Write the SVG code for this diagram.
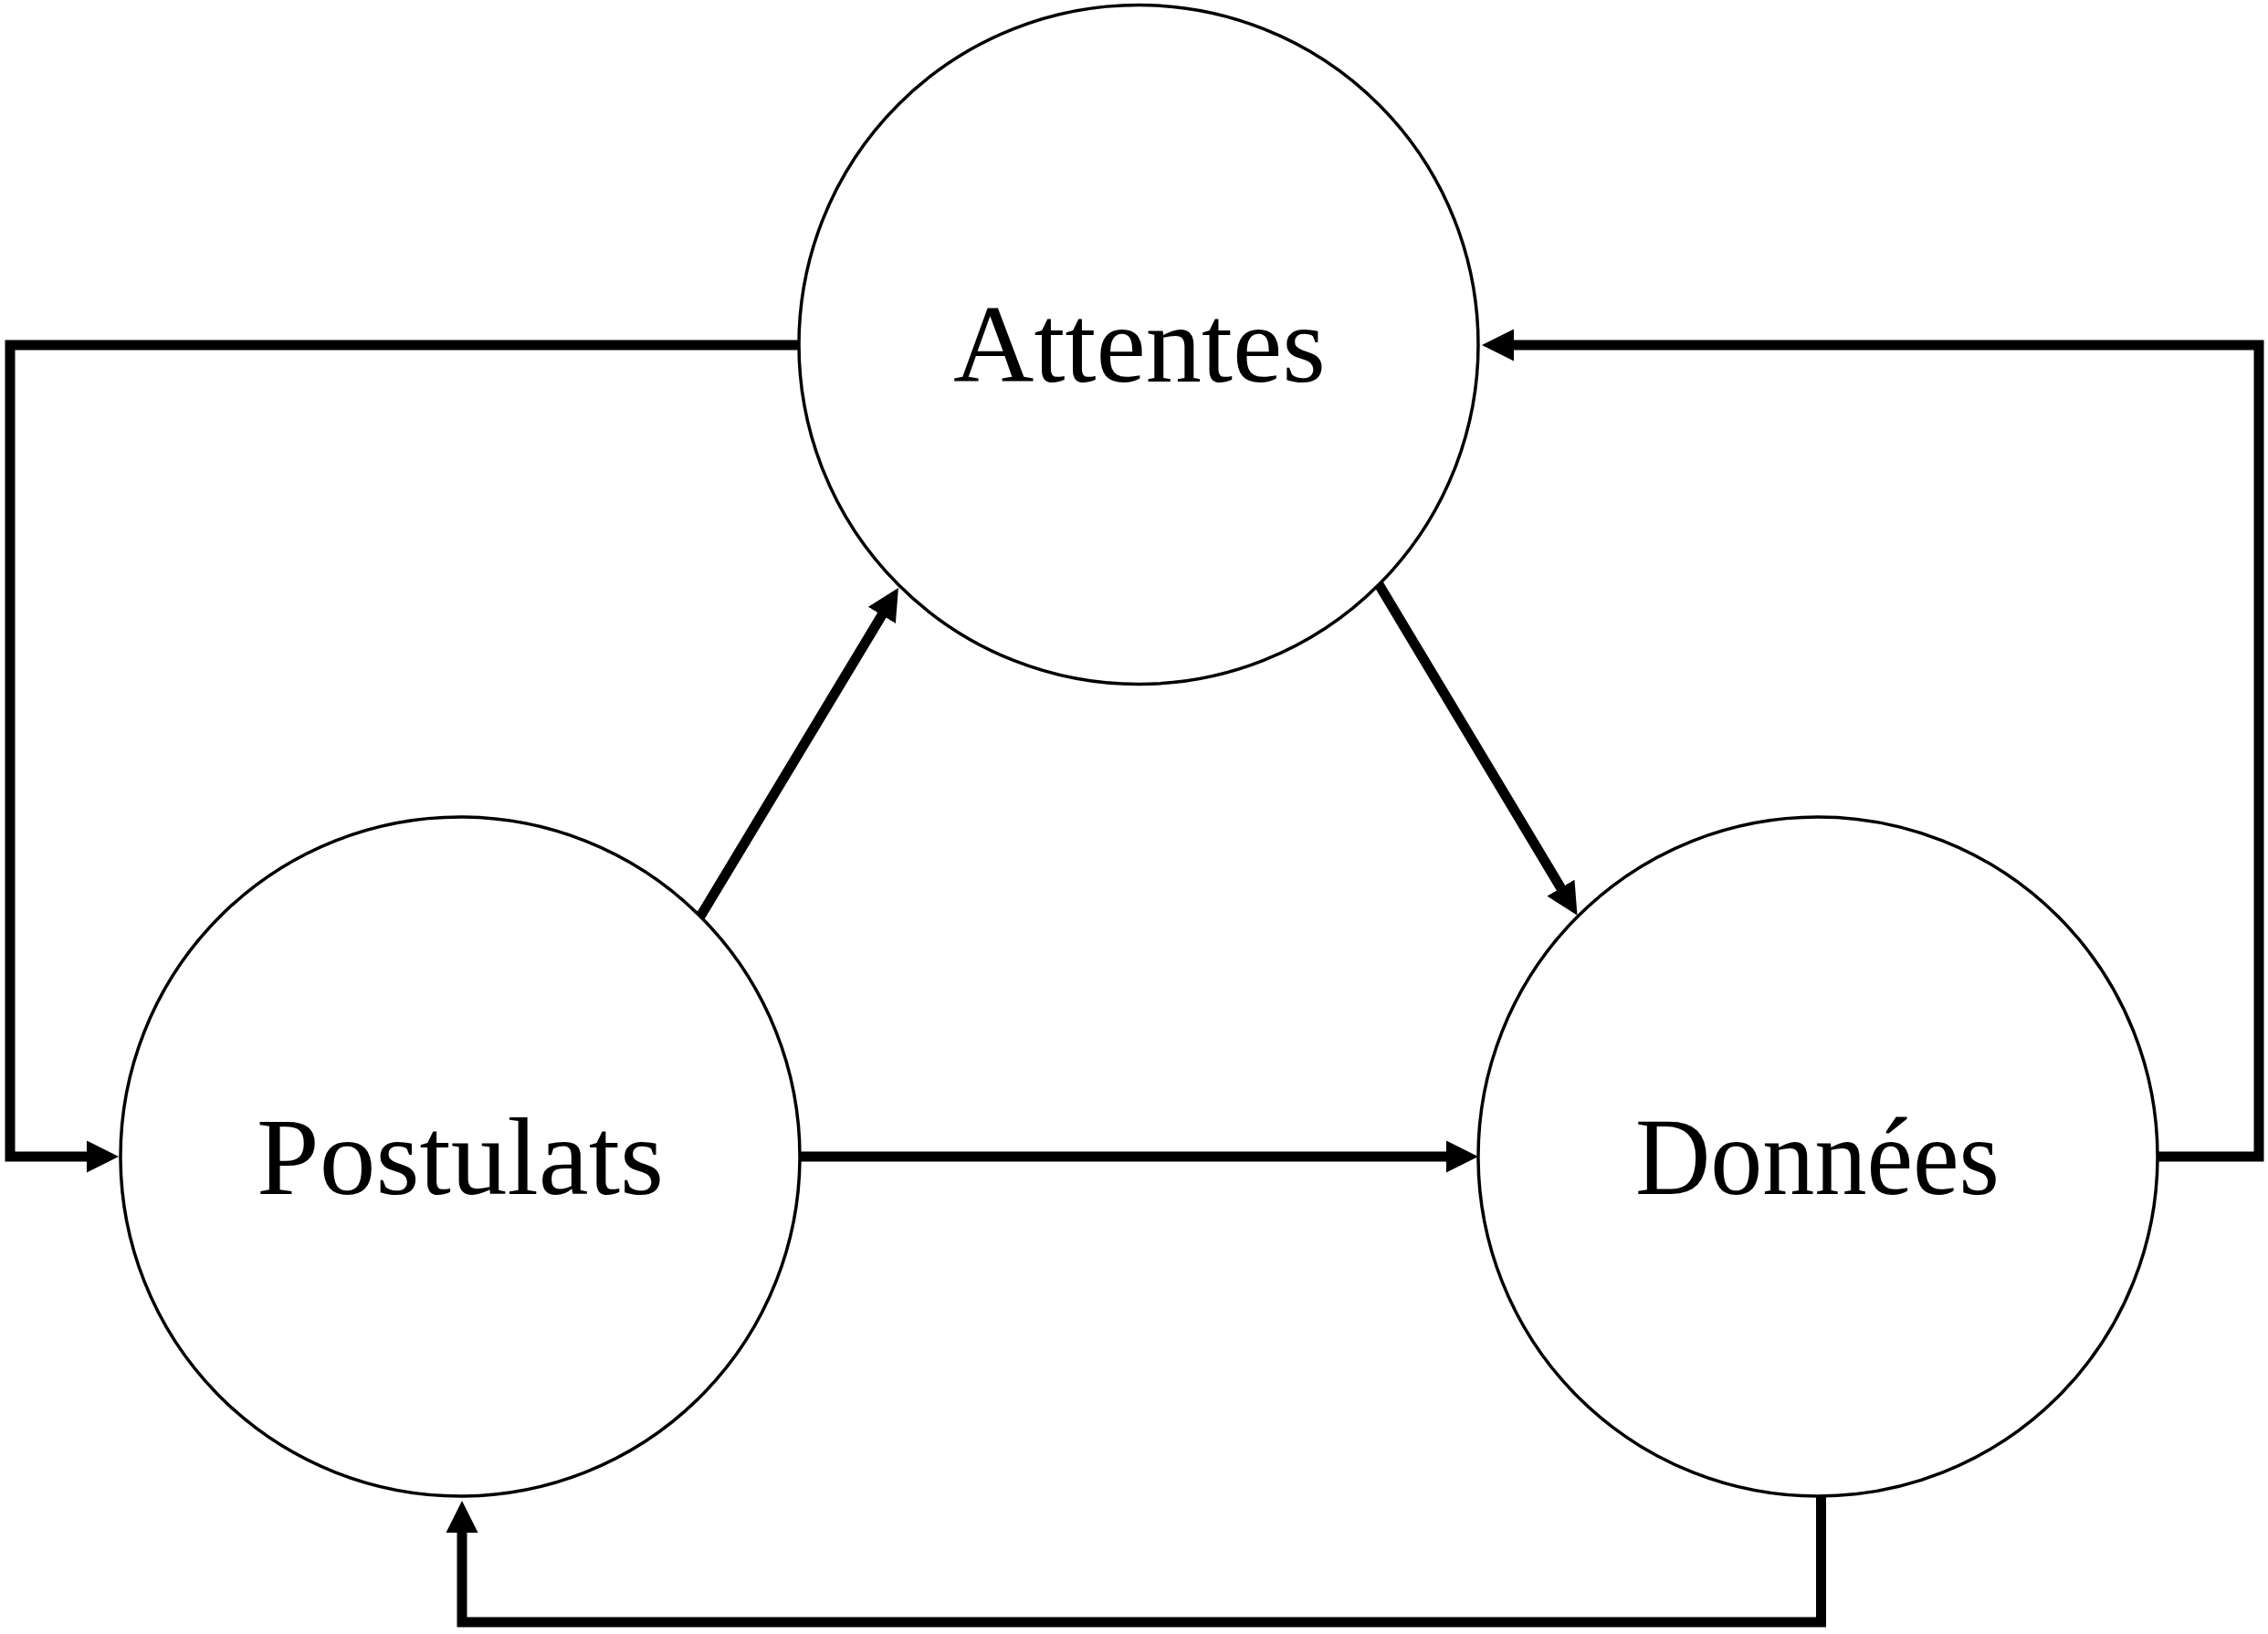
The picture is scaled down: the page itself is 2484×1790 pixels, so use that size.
<svg xmlns="http://www.w3.org/2000/svg" width="2484" height="1790" viewBox="0 0 2484 1790">
  <style>
    .node { fill: #ffffff; stroke: #000000; stroke-width: 3.5; }
    .label { font-family: "Liberation Serif", "Times New Roman", serif; font-size: 121px; fill: #000000; }
    .conn { fill: none; stroke: #000000; stroke-width: 11; stroke-linejoin: miter; stroke-linecap: butt; }
  </style>
  <defs>
    <marker id="arrow" viewBox="0 0 35 35" markerWidth="35" markerHeight="35" refX="1" refY="17.5" orient="auto" markerUnits="userSpaceOnUse">
      <path d="M0,0 L35,17.5 L0,35 Z" fill="#000000"/>
    </marker>
  </defs>
  <rect x="0" y="0" width="2484" height="1790" fill="#ffffff"/>

  <g id="node-attentes">
    <circle class="node" cx="1247" cy="377.5" r="372"/>
    <text class="label" x="1044" y="417.5" textLength="408" lengthAdjust="spacingAndGlyphs">Attentes</text>
  </g>
  <g id="node-postulats">
    <circle class="node" cx="504" cy="1267" r="372"/>
    <text class="label" x="281" y="1308" textLength="446" lengthAdjust="spacingAndGlyphs">Postulats</text>
  </g>
  <g id="node-donnees">
    <circle class="node" cx="1991" cy="1267" r="372"/>
    <text class="label" x="1791" y="1308" textLength="399" lengthAdjust="spacingAndGlyphs">Données</text>
  </g>

  <g id="connectors">
    <path class="conn" d="M875,378 H11 V1267 H96" marker-end="url(#arrow)"/>
    <path class="conn" d="M2363,1267 H2474 V378 H1657" marker-end="url(#arrow)"/>
    <path class="conn" d="M1994.5,1639 V1777 H506 V1678" marker-end="url(#arrow)"/>
    <path class="conn" d="M876,1267 H1585" marker-end="url(#arrow)"/>
    <path class="conn" d="M767,1004 L966.4,673" marker-end="url(#arrow)"/>
    <path class="conn" d="M1510,640 L1710,973.5" marker-end="url(#arrow)"/>
  </g>
</svg>
